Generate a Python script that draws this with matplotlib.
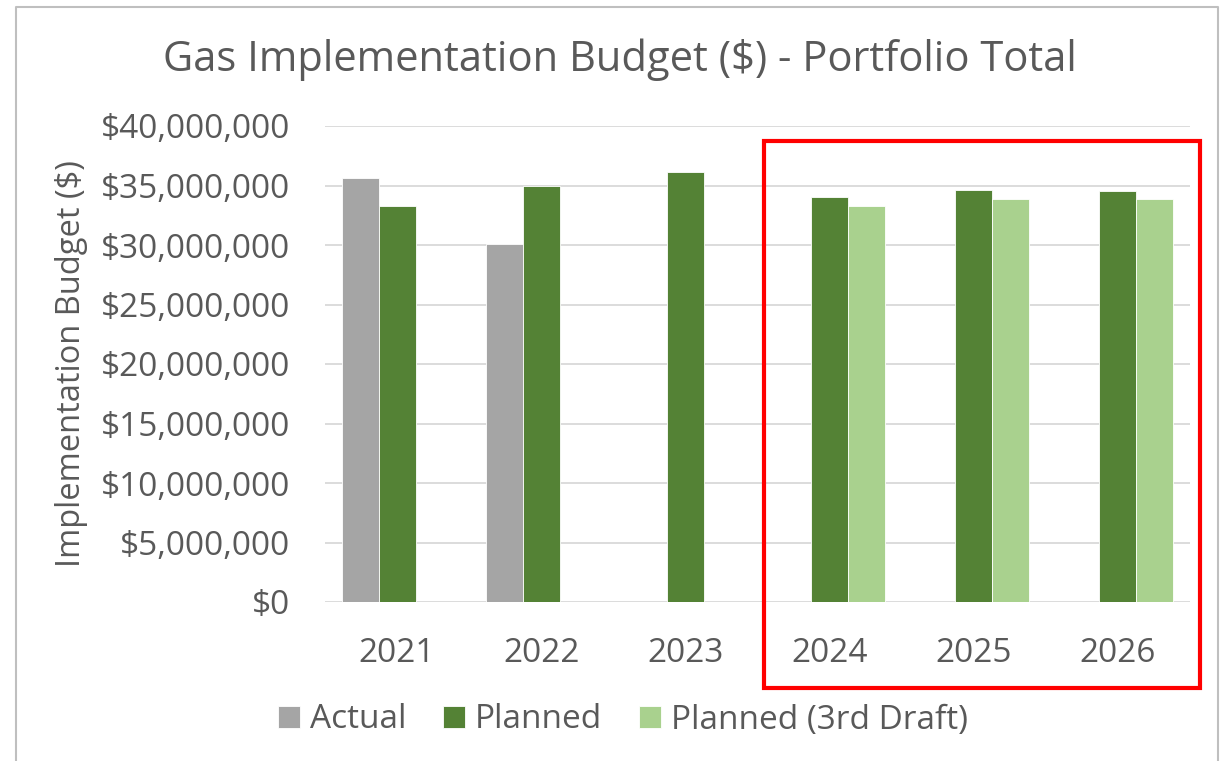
import numpy as np
import matplotlib.pyplot as plt
from matplotlib.patches import Rectangle
from matplotlib.lines import Line2D
from matplotlib.ticker import FuncFormatter

years = ['2021', '2022', '2023', '2024', '2025', '2026']
actual = [35650000, 30100000, 0, 0, 0, 0]
planned = [33250000, 35000000, 36100000, 34050000, 34580000, 34550000]
draft3 = [0, 0, 0, 33300000, 33880000, 33850000]

plt.rcParams['font.family'] = ['Open Sans', 'DejaVu Sans']
txt = '#595959'

fig = plt.figure(figsize=(12.21, 7.61), dpi=100)
ax = fig.add_axes([325/1221, 1-602/761, 865/1221, 476/761])

ind = np.arange(len(years))
width = 0.257
b1 = ax.bar(ind - width, actual, width, color='#A5A5A5', edgecolor='white', linewidth=0.6, zorder=3)
b2 = ax.bar(ind, planned, width, color='#548235', edgecolor='white', linewidth=0.6, zorder=3)
b3 = ax.bar(ind + width, draft3, width, color='#A9D18E', edgecolor='white', linewidth=0.6, zorder=3)

ax.set_xlim(-0.5, 5.5)
ax.set_ylim(0, 40000000)
ax.set_yticks(np.arange(0, 40000001, 5000000))
ax.yaxis.set_major_formatter(FuncFormatter(lambda v, p: '${:,.0f}'.format(v)))
ax.set_xticks(ind)
ax.set_xticklabels(years)
ax.grid(axis='y', color='#D9D9D9', linewidth=1.3, zorder=0)
for s in ax.spines.values():
    s.set_visible(False)
ax.tick_params(axis='both', length=0, labelsize=24, colors=txt)
ax.tick_params(axis='y', pad=25)
ax.tick_params(axis='x', pad=25)

ax.set_ylabel('Implementation Budget ($)', fontsize=23.5, color=txt, labelpad=9)
fig.text(0.508, 1-60/761, 'Gas Implementation Budget ($) - Portfolio Total',
         ha='center', va='center', fontsize=30, color=txt)

leg = fig.legend((b1, b2, b3), ('Actual', 'Planned', 'Planned (3rd Draft)'),
                 loc='center', bbox_to_anchor=(623/1221, 1-720/761), ncol=3,
                 frameon=False, fontsize=24, handlelength=0.65, handleheight=0.65,
                 handletextpad=0.3, columnspacing=1.1)
for t in leg.get_texts():
    t.set_color(txt)

# red highlight box and chart border
fig.patches.append(Rectangle((764/1221, 1-688/761), 436/1221, 547/761, transform=fig.transFigure,
                             fill=False, edgecolor='#FF0000', linewidth=3))
fig.lines.append(Line2D([16/1221, 16/1221, 1218/1221, 1218/1221], [0, 1-7/761, 1-7/761, 0],
                        transform=fig.transFigure, color='#BFBFBF', linewidth=1.5))

fig.savefig('out.png', dpi=100)
